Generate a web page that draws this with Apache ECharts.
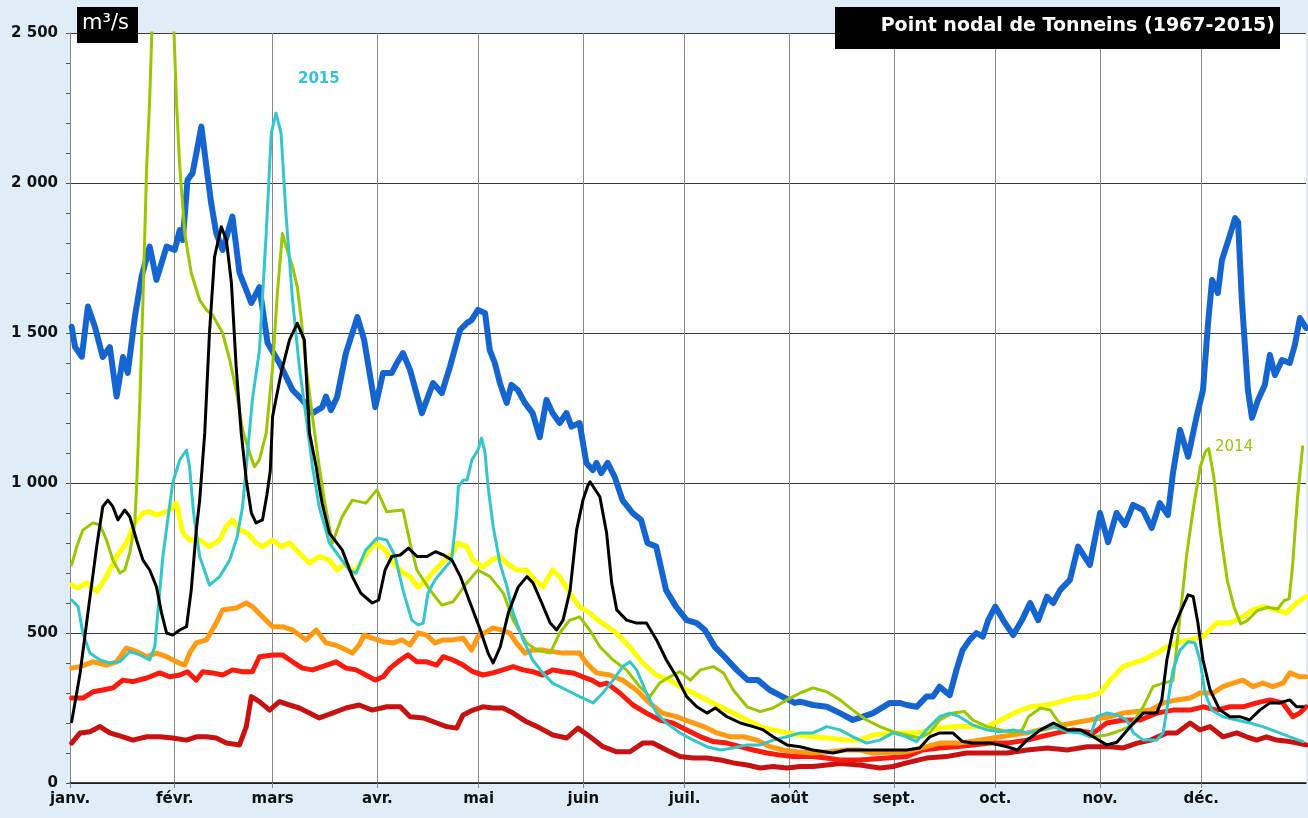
<!DOCTYPE html>
<html>
<head>
<meta charset="utf-8">
<script src="https://cdn.jsdelivr.net/npm/echarts@6/dist/echarts.min.js"></script>
<style>
html,body{margin:0;padding:0;background:#dfedf8;}
#chart{width:1308px;height:818px;}
</style>
</head>
<body>
<div id="chart"></div>
<script>
// x = day of year (leap-year calendar, 0..366), y = discharge m3/s
const monthNames = ['janv.','févr.','mars','avr.','mai','juin','juil.','août','sept.','oct.','nov.','déc.'];
const monthStarts = [0,31,60,91,121,152,182,213,244,274,305,335];
const yTicks = [0,500,1000,1500,2000,2500];

const blueSeries = [[0.5,1521],[1.5,1453],[3.5,1421],[5.3,1588],[7.4,1520],[9.7,1420],[11.8,1453],[13.8,1288],[15.7,1420],[17.1,1367],[19.2,1553],[21.2,1688],[23.6,1788],[25.6,1677],[28.6,1788],[31,1777],[32.5,1843],[33.4,1810],[34.8,2010],[36.3,2033],[38.9,2188],[40.4,2054],[41.8,1933],[43.3,1833],[45.2,1777],[48.1,1888],[50.2,1700],[53.7,1600],[56.1,1653],[58.5,1467],[62,1400],[65.9,1310],[68.8,1277],[71.8,1233],[74.7,1253],[75.8,1288],[77.3,1243],[79.1,1287],[81.7,1433],[85.1,1553],[87.1,1477],[90.4,1253],[92.7,1367],[95.3,1367],[96.8,1400],[98.6,1433],[100.7,1377],[104.2,1233],[107.5,1333],[110.1,1300],[112.5,1387],[115.5,1510],[117.5,1533],[118.9,1543],[120.8,1577],[122.9,1567],[124.3,1443],[125.8,1400],[127.3,1333],[129.3,1267],[130.7,1327],[132.6,1310],[134.7,1267],[137,1233],[139.1,1153],[141.1,1277],[142.9,1233],[145,1200],[147,1233],[148.5,1188],[150.9,1200],[152.9,1067],[154.8,1043],[155.9,1067],[157.3,1033],[159.2,1067],[161.3,1020],[163.6,943],[166.6,900],[169.1,877],[171,800],[173.6,788],[176.5,643],[179.5,587],[182.6,543],[185.6,533],[188,510],[191,453],[193.9,420],[197.4,377],[200.7,343],[203.7,343],[207.2,310],[211.1,287],[214.6,267],[216.2,271],[220,260],[224.1,254],[228,233],[231.8,210],[234.8,221],[237.8,233],[242.8,267],[245.7,267],[247.7,260],[250.7,254],[253.6,288],[255.5,288],[257.5,321],[260.5,293],[262.5,377],[264.3,443],[266.4,477],[268.4,500],[270.3,488],[271.9,543],[274,588],[276.3,543],[279.3,493],[281.9,543],[284.3,600],[286.7,543],[289.3,621],[291.1,600],[293.2,643],[296.1,677],[298.5,788],[302,727],[305,900],[307.4,803],[309.9,900],[312.4,860],[314.8,927],[317.7,910],[320.3,850],[322.7,933],[325.1,893],[326.6,1033],[328.7,1177],[331.1,1088],[333.6,1221],[335.5,1310],[337,1533],[338.2,1677],[339.9,1633],[341.1,1743],[343.5,1827],[345,1883],[345.9,1870],[347,1610],[348.8,1310],[350,1217],[351.8,1277],[353.8,1327],[355.3,1427],[356.8,1360],[358.9,1410],[361.2,1400],[362.7,1460],[364.2,1550],[366,1517]];

const yellowSeries = [[0.5,660],[2.4,650],[4.9,667],[7.9,638],[10.8,688],[13.8,755],[16.7,800],[19.2,867],[21.6,900],[23.6,904],[25.6,893],[27.5,900],[29.5,910],[31.5,933],[33.4,833],[35.4,810],[38.4,810],[41.3,788],[44.3,810],[46.3,855],[48.1,877],[50.2,843],[52.6,833],[55.1,800],[57,788],[60,810],[62.5,788],[65,800],[67.9,767],[70.9,733],[73.8,755],[76.8,743],[79.1,710],[81.7,733],[84.2,700],[87.1,753],[90.4,800],[93.3,777],[95.7,733],[98.6,700],[100.7,688],[103.1,653],[105.6,677],[108.1,710],[111,743],[113.4,767],[114.9,800],[117.5,788],[119.3,743],[122.3,720],[124.8,743],[127.3,755],[129.3,733],[132.2,710],[135.2,710],[137.6,677],[140,653],[142.9,710],[145,688],[148,633],[150.9,587],[153.9,567],[156.3,543],[157.7,533],[161.8,500],[165.7,454],[169.6,400],[173.6,360],[177.6,343],[180.6,321],[184.6,300],[188.6,277],[192.6,254],[196.4,233],[200.5,210],[204.4,188],[208.2,177],[212.3,167],[216.2,160],[220,154],[224.1,150],[230,143],[233.9,143],[237.8,160],[243.7,167],[250.7,167],[257.5,183],[262.5,188],[271.6,188],[274.6,204],[277.5,221],[280.5,238],[284.4,254],[289.4,260],[293.3,271],[297.1,283],[301.2,288],[305.1,300],[308,343],[311.9,388],[314.9,400],[317.8,410],[321.8,433],[324.8,454],[327.7,467],[331.7,477],[335.5,488],[339.6,533],[343.5,533],[347.3,554],[350.3,577],[353.2,588],[357.2,577],[360.2,567],[363.2,600],[366,621]];

const orangeSeries = [[0.5,383],[3,388],[6.8,404],[10.8,393],[13.8,404],[16.7,450],[19.7,438],[22.7,421],[25.6,433],[28.6,421],[31.5,404],[34,393],[35.4,433],[37.4,467],[40.4,477],[43.3,533],[45.2,577],[49.2,583],[52.2,600],[54,588],[57,554],[60,521],[62.9,521],[65.9,510],[69.9,477],[72.9,510],[75.8,467],[78.5,460],[80.6,450],[83.6,433],[85.6,460],[87.1,493],[89.5,483],[92.7,471],[95.7,467],[98.3,477],[100.7,460],[103.1,500],[105.6,493],[108.1,467],[110.5,477],[113.4,477],[116.4,483],[118.9,443],[120.8,488],[123.4,504],[125.2,517],[127.8,510],[130.2,500],[132.2,467],[134.7,433],[137,443],[140,443],[142.9,438],[145.9,433],[148.9,433],[150.9,433],[152.9,400],[155.9,367],[159.8,360],[163.6,343],[167.7,310],[171.6,267],[175.4,233],[179.5,221],[183.7,204],[187.6,188],[191.6,167],[195.6,154],[199.4,154],[203.4,143],[207.3,121],[211.1,110],[215.2,104],[220,100],[225,104],[230,110],[233.9,110],[237.8,100],[247.7,104],[253.6,121],[257.5,133],[263.4,133],[269.3,143],[275.6,154],[283.4,167],[291.2,188],[297.1,200],[302,210],[308,221],[311.9,233],[316,238],[320,243],[323.7,267],[327.7,277],[331.7,283],[334.6,300],[338.5,300],[341.4,321],[344.4,333],[347.3,343],[350.3,321],[353.2,333],[356.2,321],[359.2,333],[361.2,367],[364.2,354],[366,354]];

const redSeries = [[0.5,283],[3.8,283],[6.8,304],[9.7,310],[12.7,317],[15.7,343],[18.6,338],[22.7,350],[26.6,367],[29.5,354],[32.5,360],[34.8,371],[37.4,343],[39.3,371],[42.2,367],[45.2,360],[48.1,377],[51.1,371],[54,371],[56.1,421],[60,427],[62.9,427],[65.9,404],[68.8,383],[71.8,377],[74.7,388],[78.8,404],[81.7,383],[84.7,377],[87.6,360],[90.4,343],[92.7,354],[94.8,383],[97.8,410],[100.1,427],[102.7,404],[105.6,404],[108.6,393],[110.5,421],[113.4,410],[116.4,393],[119.3,371],[122.3,360],[125.2,367],[128.2,377],[131.2,388],[134.2,377],[137,371],[140,360],[142.9,377],[145.9,371],[148.9,367],[151.8,354],[154.5,343],[156.9,327],[158.9,333],[162.8,300],[166.7,260],[170.7,233],[174.6,210],[178.5,200],[182.6,177],[186.7,154],[190.5,138],[194.5,133],[198.5,121],[202.3,110],[206.4,100],[210.3,93],[214.1,88],[220,88],[224,83],[228,77],[233.9,77],[241.8,83],[247.7,88],[252.5,110],[257.5,117],[262.5,121],[267.3,127],[272.6,133],[277.5,133],[283.4,143],[287.4,154],[292.3,167],[297.1,177],[303,167],[307,200],[311.9,210],[316.9,210],[321.8,233],[326.6,243],[331.7,243],[335.5,254],[339.6,243],[343.5,254],[347.3,254],[351.4,267],[355.3,277],[359.1,267],[362.1,221],[364.2,233],[366,254]];

const darkRedSeries = [[0.5,133],[3,167],[5.9,171],[8.9,188],[11.8,167],[15.7,154],[18.6,143],[22.7,154],[26.6,154],[30.4,150],[34.5,143],[37.4,154],[40.4,154],[43.3,150],[46.3,133],[50.2,127],[52.2,188],[53.7,288],[56.1,271],[59.1,243],[62,271],[65,260],[67.9,250],[70.9,233],[73.8,217],[77.7,233],[81.7,250],[85.6,260],[89.5,243],[93.8,254],[97.8,254],[100.7,221],[104.6,217],[108.6,200],[111.5,188],[114.5,183],[116.4,227],[119.3,243],[122.3,254],[125.2,250],[128.2,250],[131.2,233],[135.2,204],[139.2,183],[143,160],[147.1,150],[150.4,183],[154,154],[157.8,121],[161.9,104],[165.8,104],[169.6,133],[172.6,133],[176.6,110],[180.6,88],[184.6,83],[188.6,83],[192.6,77],[196.4,67],[200.5,60],[204.4,50],[208.2,55],[212.3,50],[216.2,55],[220,55],[224.1,60],[228,65],[233.9,60],[239.8,50],[243.7,55],[247.7,67],[253.6,83],[259.5,88],[265.4,100],[271.6,100],[277.5,100],[283.4,110],[289.4,117],[295.3,110],[301.2,121],[305,121],[308,121],[311.9,117],[316,133],[320,143],[324.8,167],[327.7,167],[331.7,200],[334.6,177],[337.6,188],[341.4,154],[345.5,167],[348.4,154],[351.4,143],[354.3,154],[357.3,143],[361.2,138],[366,127]];

const year2014 = [[0.5,727],[2,788],[3.8,843],[6.8,867],[8.9,860],[10.8,810],[12.7,743],[14.8,700],[16.2,710],[17.7,767],[19.2,867],[19.8,1010],[20.7,1277],[21.6,1610],[22.7,2054],[23.6,2277],[24.5,2600],[27,3200],[30.5,2600],[31.5,2277],[32.5,2054],[34,1832],[35.9,1700],[38.4,1610],[40.4,1577],[42.2,1560],[45.2,1500],[47.3,1410],[49.2,1310],[51.1,1177],[53.2,1100],[54.6,1054],[56.1,1077],[58.1,1167],[60,1388],[61.4,1632],[62.9,1832],[64,1788],[65.9,1721],[67.3,1654],[68.4,1554],[69.9,1388],[71.8,1221],[73.8,1054],[75.3,943],[77.7,800],[80.6,888],[83.6,943],[87.6,933],[90.9,977],[93.8,904],[98.6,910],[100.7,800],[102.7,710],[106.6,643],[110.1,593],[113.4,604],[117.5,667],[120.8,710],[124.4,688],[128.3,633],[131.2,543],[135.2,467],[138.2,443],[142.2,433],[145,500],[148,543],[150.9,554],[153.9,510],[156.9,454],[160.8,410],[164.8,377],[168.7,321],[171.7,288],[174.6,333],[177.6,354],[180.6,371],[183.7,343],[186.7,377],[190.5,388],[193.5,367],[196.4,310],[200.5,254],[204.4,238],[208.2,250],[212.3,277],[216.2,300],[220,317],[224.1,304],[228,277],[231.8,243],[235.9,210],[239.8,188],[243.7,171],[247.7,160],[251.6,150],[254.6,167],[257.5,210],[261.4,233],[264.9,238],[267.3,210],[271.6,188],[275.6,177],[279.4,167],[282,177],[283.8,221],[287.4,250],[290.3,243],[292.3,210],[295.3,177],[299.2,167],[303,154],[307,160],[310,171],[314,188],[317.8,254],[320.7,321],[323.7,333],[326.6,341],[328.8,564],[330.7,764],[332.7,920],[334.7,1054],[336.2,1104],[337.2,1115],[338.7,1020],[340.7,831],[342.7,675],[344.7,586],[346.7,530],[348.6,541],[351.6,575],[354.6,586],[357.6,580],[359.5,608],[361,614],[362,720],[363.5,953],[365,1121]];

const year2015 = [[0.5,610],[2.4,588],[3.8,500],[5.9,433],[8.9,410],[11.8,400],[14.8,404],[17.7,438],[20.7,427],[23.6,410],[25.1,454],[26,567],[27.5,755],[30.4,1000],[32.5,1077],[34.5,1110],[35.4,1054],[36.6,900],[38.4,755],[41.3,660],[44.3,688],[47.3,743],[49.5,821],[51.1,921],[52.2,1054],[54,1277],[56.1,1443],[58.1,1832],[59.6,2166],[61,2233],[62.5,2166],[64,1888],[65.9,1610],[67.9,1388],[69.9,1221],[71.8,1054],[73.8,920],[76.8,800],[79.7,755],[82.7,710],[84.7,700],[87.6,777],[90.9,817],[93.8,810],[96.3,755],[98.6,643],[101.2,543],[103.1,527],[104.6,533],[106,633],[108.1,677],[110.5,710],[113,743],[114.5,900],[115,988],[116.5,1010],[117.6,1010],[119,1077],[120.8,1110],[121.9,1150],[122.9,1100],[123.8,988],[125.3,855],[127.3,733],[129.4,654],[131.2,567],[134.2,477],[137,410],[140,367],[142.9,333],[147,310],[150.9,288],[154.9,267],[157.8,300],[160.8,343],[163.7,388],[165.8,404],[167.8,377],[170.7,300],[173.7,233],[176.6,200],[180.6,167],[184.6,143],[188.6,121],[192.6,110],[196.4,117],[200.5,127],[204.4,127],[208.2,143],[212.3,154],[216.2,167],[220,167],[224.1,188],[228,177],[231.8,154],[235.9,133],[239.8,143],[243.7,167],[247.7,154],[250.7,138],[253.6,177],[257.5,221],[260.5,233],[263.4,221],[267.3,193],[271.6,177],[275.6,171],[279.4,177],[283.4,167],[287.4,177],[291.2,188],[295.3,171],[299.2,167],[302,154],[304.1,221],[307,233],[310,227],[312.9,210],[314.9,167],[317.8,143],[321.8,143],[323.7,167],[325.2,277],[326.6,377],[328.7,443],[331.1,471],[333.1,467],[334.6,410],[336.1,300],[338.1,243],[341.4,221],[345.4,210],[349.4,200],[353.2,188],[357.2,171],[361.2,154],[365.1,138]];

const blackSeries = [[0.5,204],[3,367],[5.3,567],[7.9,788],[9.7,921],[11.2,943],[12.7,921],[14.2,877],[16.2,910],[17.7,888],[19.7,810],[21.6,743],[23.6,710],[25.6,654],[27.1,567],[28.6,500],[30.4,493],[32.5,510],[34.5,521],[35.9,643],[37.4,843],[38.4,943],[39.9,1167],[41.3,1500],[42.8,1754],[44.8,1854],[46.3,1810],[47.8,1667],[49.2,1388],[50.7,1167],[52.2,1010],[53.7,900],[55.1,867],[57,877],[58.3,960],[59.3,1040],[60,1222],[62.5,1366],[65,1477],[67.3,1532],[69.4,1477],[70.9,1167],[72.9,1054],[73.8,988],[74.7,930],[76.8,833],[80.6,777],[83.6,688],[86.1,633],[89.5,600],[91.4,610],[93.3,710],[95.3,755],[97.8,760],[100.2,783],[102.8,755],[105.7,755],[108.2,771],[110.6,760],[113.1,743],[115.6,688],[118.5,600],[121.5,510],[123.8,433],[125.3,400],[127.4,454],[129.8,567],[132.7,653],[135.3,688],[137.1,667],[139.7,600],[142.2,533],[144.1,510],[146,543],[148.1,643],[150,843],[151.9,943],[153.4,993],[154,1004],[156.9,954],[158.9,833],[160.4,667],[161.9,577],[164.8,543],[167.8,533],[170.7,533],[173.7,477],[176.6,410],[179.6,354],[182.6,288],[185.6,254],[188.6,233],[191.1,250],[194.5,221],[198.5,200],[202.3,188],[205.3,177],[208.2,154],[212.3,127],[216.2,121],[220,110],[225.9,100],[230,110],[237.8,110],[247.7,110],[251.6,117],[254.6,154],[257.5,167],[261.4,167],[264.3,138],[267.3,133],[272.6,133],[277.5,121],[280.5,110],[283.4,143],[287.4,177],[291.2,200],[295.3,177],[299.2,177],[303,154],[307,127],[310,136],[314,188],[317.8,233],[321.8,233],[323.3,277],[324.8,410],[326.6,510],[328.7,567],[331.1,627],[332.6,621],[334,533],[335.5,410],[337.6,310],[340.5,243],[343.5,221],[346.4,221],[349.3,210],[352.3,243],[355.3,267],[358.2,267],[361.2,277],[363.2,254],[365.1,254]];

const chart = echarts.init(document.getElementById('chart'), null, {renderer:'canvas'});
const FONT = 'DejaVu Sans';
function fmtY(v){ return v >= 1000 ? Math.floor(v/1000) + ' ' + String(v % 1000).padStart(3,'0') : String(v); }
function mk(name, data, color, width){
  return {name:name, type:'line', data:data, showSymbol:false, symbol:'none', smooth:false,
    lineStyle:{color:color, width:width, join:'round', cap:'round'}, itemStyle:{color:color}, clip:true, silent:true};
}
chart.setOption({
  animation:false,
  backgroundColor:'#dfedf8',
  grid:{left:70, right:2, top:33, bottom:35, show:true, backgroundColor:'#ffffff', borderWidth:0},
  xAxis:{type:'value', min:0, max:366,
    axisLine:{show:true, lineStyle:{color:'#111', width:1.5}},
    axisTick:{show:true, length:5, customValues:monthStarts, lineStyle:{color:'#888'}},
    axisLabel:{customValues:monthStarts, color:'#111', fontFamily:FONT, fontSize:15, fontWeight:'bold', margin:9,
      formatter:function(v){ const i = monthStarts.indexOf(Math.round(v)); return i >= 0 ? monthNames[i] : ''; }},
    splitLine:{show:true, lineStyle:{color:'#8a8a8a', width:1}}
  },
  yAxis:{type:'value', min:yTicks[0], max:yTicks[yTicks.length-1], interval:500,
    axisLine:{show:true, lineStyle:{color:'#888', width:1}},
    axisTick:{show:true, length:4, lineStyle:{color:'#555'}},
    minorTick:{show:true, splitNumber:5, length:4, lineStyle:{color:'#555'}},
    axisLabel:{color:'#111', fontFamily:FONT, fontSize:15, fontWeight:'bold', margin:12, formatter:fmtY},
    splitLine:{show:true, lineStyle:{color:'#3a3a3a', width:1}}
  },
  series:[
    mk('Débit haut', blueSeries, '#1565d0', 6),
    mk('Débit très bas', darkRedSeries, '#c81212', 5),
    mk('Débit bas', redSeries, '#fa1a0e', 5),
    mk('Débit médian', orangeSeries, '#ff9a12', 5),
    mk('Débit moyen', yellowSeries, '#ffff00', 5),
    mk('2014', year2014, '#99c800', 3),
    mk('2015', year2015, '#33c6cc', 3),
    mk('Année', blackSeries, '#000000', 3)
  ],
  graphic:[
    {type:'rect', left:835, top:7, shape:{width:445, height:42}, style:{fill:'#000'}, z:100},
    {type:'text', right:33, top:17, style:{text:'Point nodal de Tonneins (1967-2015)', fill:'#fff', font:'bold 19px "DejaVu Sans"'}, z:101},
    {type:'rect', left:77, top:7, shape:{width:61, height:36}, style:{fill:'#000'}, z:100},
    {type:'text', left:82, top:13, style:{text:'m³/s', fill:'#fff', font:'21px "DejaVu Sans"'}, z:101},
    {type:'text', left:298, top:72, style:{text:'2015', fill:'#33c6cc', font:'bold 15px "DejaVu Sans"'}, z:101},
    {type:'text', left:1215, top:440, style:{text:'2014', fill:'#99c800', font:'15px "DejaVu Sans"'}, z:101}
  ]
});
</script>
</body>
</html>
